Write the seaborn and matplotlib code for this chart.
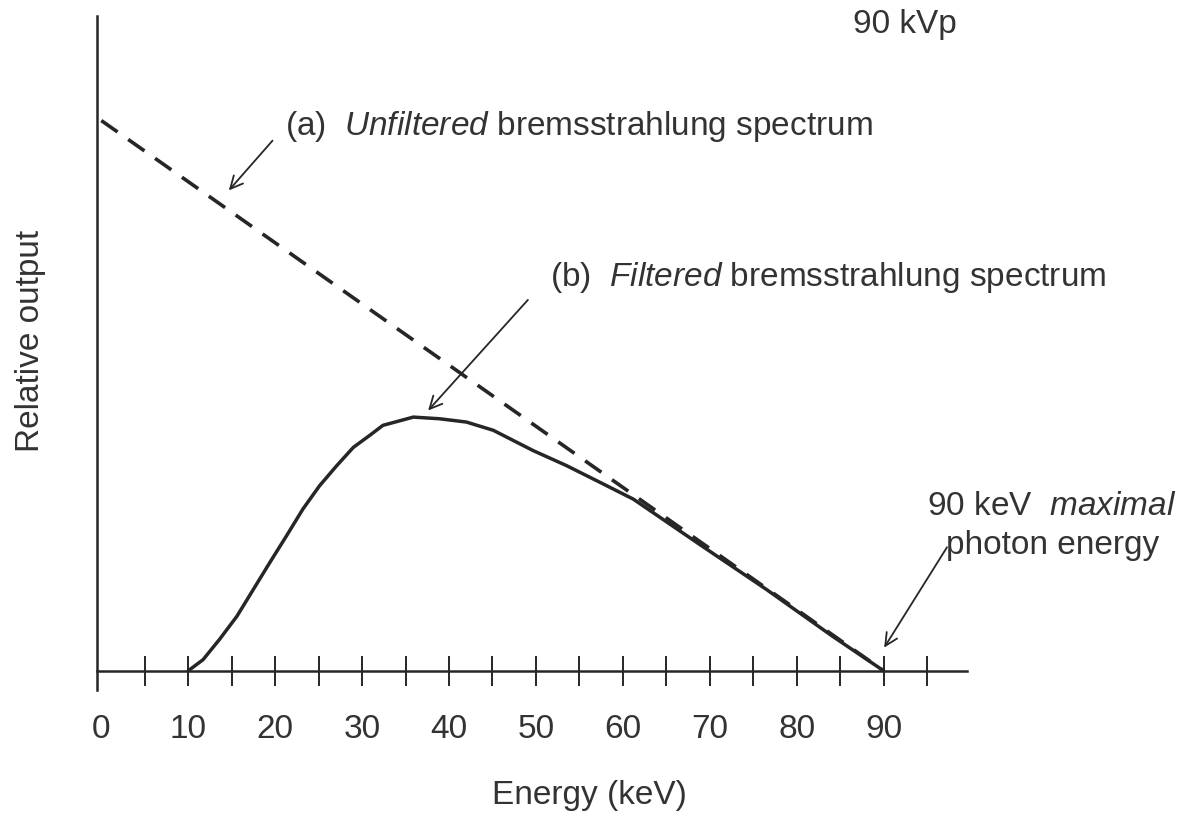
import matplotlib
matplotlib.use("Agg")
import matplotlib.pyplot as plt
import seaborn as sns
import pandas as pd
from matplotlib.ticker import FixedLocator

# ---- data ----
unf_energy = [0, 90]
unf_output = [1.0, 0.0]

filt_energy = [10.0, 11.7, 13.6, 15.6, 17.5, 19.4, 21.3, 23.2, 25.1, 27.1, 29.0, 30.9,
               32.4, 35.9, 38.9, 42.0, 45.1, 49.7, 53.5, 57.3, 61.2, 68.8, 76.5, 84.1, 90.0]
filt_output = [0.0, 0.020, 0.057, 0.099, 0.148, 0.197, 0.245, 0.294, 0.336, 0.373, 0.406,
               0.428, 0.446, 0.461, 0.458, 0.452, 0.437, 0.400, 0.373, 0.343, 0.312, 0.230,
               0.148, 0.063, 0.0]

major_ticks = [0, 10, 20, 30, 40, 50, 60, 70, 80, 90]
tick_labels = ["0", "10", "20", "30", "40", "50", "60", "70", "80", "90"]
minor_ticks = [5, 15, 25, 35, 45, 55, 65, 75, 85, 95]

sns.set_theme(style="white")
plt.rcParams["font.family"] = ["Liberation Sans", "DejaVu Sans"]
plt.rcParams["mathtext.fontset"] = "custom"
plt.rcParams["mathtext.rm"] = "Liberation Sans"
plt.rcParams["mathtext.it"] = "Liberation Sans:italic"

INK = "#262626"
TXT = "#333333"
FS = 24

fig = plt.figure(figsize=(11.82, 8.15), dpi=100)
ax = fig.add_axes([97.4 / 1182, 1 - 690 / 815, (967 - 97.4) / 1182, (690 - 16) / 815])

df_unf = pd.DataFrame({"Energy": unf_energy, "Output": unf_output})
df_filt = pd.DataFrame({"Energy": filt_energy, "Output": filt_output})

sns.lineplot(data=df_unf, x="Energy", y="Output", ax=ax, color=INK, lw=2.6,
             dashes=False, linestyle=(0, (5.5, 3.6)), sort=False)
sns.lineplot(data=df_filt, x="Energy", y="Output", ax=ax, color=INK, lw=2.5, sort=False)
for ln in ax.lines:
    ln.set_solid_joinstyle("round")

ax.set_xlim(-0.45, 99.6)
ax.set_ylim(-0.035, 1.19)

for s in ["top", "right"]:
    ax.spines[s].set_visible(False)
ax.spines["bottom"].set_position(("data", 0))
for s in ["left", "bottom"]:
    ax.spines[s].set_color(INK)
    ax.spines[s].set_linewidth(1.8)

ax.yaxis.set_major_locator(FixedLocator([]))
ax.xaxis.set_major_locator(FixedLocator(major_ticks))
ax.xaxis.set_minor_locator(FixedLocator(minor_ticks))
ax.set_xticklabels(tick_labels)
ax.tick_params(axis="x", which="both", direction="inout", length=22, width=1.4,
               color=INK, bottom=True)
ax.tick_params(axis="x", which="major", pad=20, labelsize=FS, labelcolor=TXT)
ax.xaxis.get_major_ticks()[0].tick1line.set_visible(False)

ax.set_xlabel("Energy (keV)", fontsize=FS, color=TXT, va="center")
ax.xaxis.set_label_coords(0.566, -0.156)
ax.set_ylabel("Relative output", fontsize=FS, color=TXT, va="center", ha="center")
ax.yaxis.set_label_coords(-0.0775, 0.518)

# ---- annotations ----
ax.text(86.5, 1.159, "90 kVp", fontsize=FS, color=TXT, va="baseline", ha="left")
ax.text(21.1, 0.974, r"(a)  $\mathit{Unfiltered}$ bremsstrahlung spectrum",
        fontsize=FS, color=TXT, va="baseline", ha="left")
ax.text(51.6, 0.699, r"(b)  $\mathit{Filtered}$ bremsstrahlung spectrum",
        fontsize=FS, color=TXT, va="baseline", ha="left")
ax.text(95.0, 0.283, r"90 keV  $\mathit{maximal}$", fontsize=FS, color=TXT,
        va="baseline", ha="left")
ax.text(97.2, 0.212, "photon energy", fontsize=FS, color=TXT, va="baseline", ha="left")

arrow_kw = dict(arrowstyle="->,head_length=0.45,head_width=0.22", color=INK, lw=1.3,
                shrinkA=0, shrinkB=0, mutation_scale=20)
ax.annotate("", xy=(14.67, 0.873), xytext=(19.7, 0.9635), arrowprops=arrow_kw,
            annotation_clip=False)
ax.annotate("", xy=(37.6, 0.473), xytext=(49.08, 0.674), arrowprops=arrow_kw,
            annotation_clip=False)
ax.annotate("", xy=(90.07, 0.042), xytext=(97.3, 0.2245), arrowprops=arrow_kw,
            annotation_clip=False)

if ax.get_legend() is not None:
    ax.get_legend().remove()

fig.savefig("out.png", dpi=100, facecolor="white")
